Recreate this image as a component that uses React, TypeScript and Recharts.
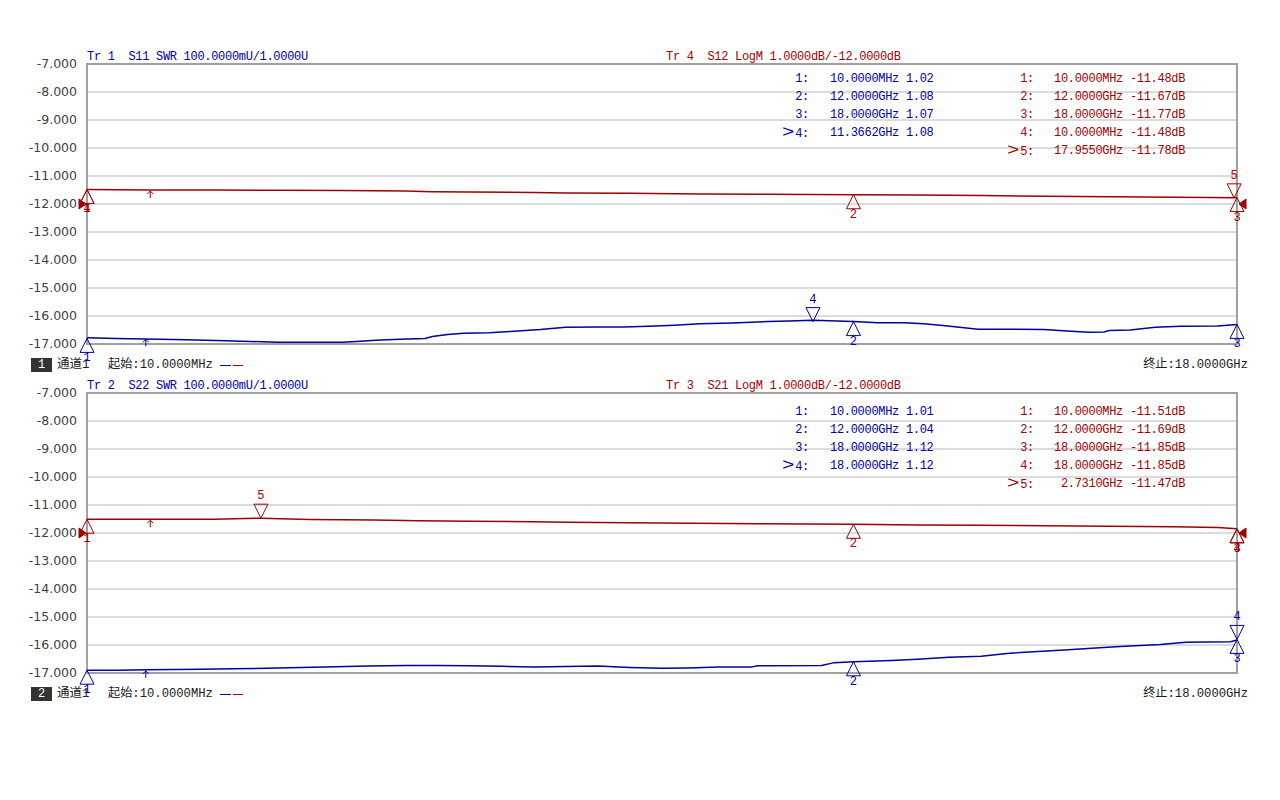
import React from 'react'
import {
  LineChart, Line, XAxis, YAxis, CartesianGrid, ReferenceDot, ReferenceArea,
} from 'recharts'

const BLUE = '#0000a0'
const RED = '#a00000'
const GRID = '#b8b8b8'
const FRAME = '#a0a0a0'
const MONO = '"Liberation Mono", "Noto Sans CJK SC", monospace'

// vertical divisions, 10 MHz .. 18 GHz (GHz)
const FREQ_GRID = [0.01, 1.809, 3.608, 5.407, 7.206, 9.005, 10.804, 12.603, 14.402, 16.201, 18]
const DB_TICKS = [-17, -16, -15, -14, -13, -12, -11, -10, -9, -8, -7]

// Tr 1  S11 SWR (channel 1)
const S11_FREQ = [0.01, 0.45, 1.15, 1.56, 2.17, 2.56, 3.0, 3.5, 4.0, 4.23, 4.53, 4.9, 5.3, 5.41, 5.65, 5.9, 6.3, 6.63, 7.1, 7.5, 8.0, 8.4, 8.8, 9.2, 9.6, 10.1, 10.66, 11.0, 11.3662, 12.0, 12.38, 12.8, 13.1, 13.4, 13.95, 14.98, 15.34, 15.68, 15.92, 16.0, 16.33, 16.72, 17.12, 17.7, 18.0]
const S11_SWR = [1.022, 1.02, 1.017, 1.015, 1.012, 1.009, 1.006, 1.006, 1.006, 1.009, 1.013, 1.017, 1.02, 1.027, 1.034, 1.038, 1.04, 1.045, 1.052, 1.06, 1.061, 1.061, 1.063, 1.067, 1.072, 1.075, 1.08, 1.082, 1.085, 1.08, 1.076, 1.076, 1.072, 1.066, 1.053, 1.052, 1.046, 1.042, 1.043, 1.048, 1.05, 1.06, 1.063, 1.064, 1.07]

// Tr 4  S12 LogM (channel 1)
const S12_FREQ = [0.01, 1.0, 2.0, 3.0, 4.0, 5.0, 5.4, 6.0, 7.0, 7.5, 8.5, 9.6, 10.5, 11.3, 12.0, 13.0, 14.0, 15.0, 16.0, 17.0, 17.6, 17.955, 18.0]
const S12_DB = [-11.48, -11.5, -11.5, -11.51, -11.52, -11.54, -11.56, -11.57, -11.59, -11.61, -11.62, -11.64, -11.65, -11.66, -11.67, -11.68, -11.7, -11.72, -11.74, -11.76, -11.77, -11.78, -11.77]

// Tr 2  S22 SWR (channel 2)
const S22_FREQ = [0.01, 0.5, 0.95, 1.8, 2.3, 3.0, 3.9, 4.4, 5.0, 5.5, 6.0, 6.5, 7.0, 7.5, 8.0, 8.5, 9.0, 9.4, 9.9, 10.4, 10.5, 11.5, 11.7, 12.0, 12.6, 13.0, 13.5, 14.0, 14.4, 15.3, 16.1, 16.8, 17.2, 17.9, 18.0]
const S22_SWR = [1.01, 1.01, 1.012, 1.013, 1.015, 1.018, 1.022, 1.025, 1.027, 1.027, 1.026, 1.024, 1.021, 1.023, 1.025, 1.02, 1.017, 1.018, 1.021, 1.021, 1.026, 1.027, 1.037, 1.04, 1.045, 1.049, 1.056, 1.06, 1.07, 1.082, 1.094, 1.102, 1.11, 1.112, 1.118]

// Tr 3  S21 LogM (channel 2)
const S21_FREQ = [0.01, 1.0, 2.0, 2.731, 3.5, 4.5, 5.2, 6.0, 7.0, 7.5, 8.5, 9.5, 10.5, 12.0, 13.0, 14.0, 15.0, 16.0, 17.0, 17.7, 18.0]
const S21_DB = [-11.51, -11.51, -11.51, -11.47, -11.52, -11.54, -11.56, -11.58, -11.6, -11.62, -11.63, -11.65, -11.67, -11.69, -11.71, -11.72, -11.74, -11.76, -11.78, -11.8, -11.85]

type Marker = { id: string; freq: number; value: number; active?: boolean }

const S11_MARKERS: Marker[] = [
  { id: '1', freq: 0.01, value: 1.02 },
  { id: '2', freq: 12, value: 1.08 },
  { id: '3', freq: 18, value: 1.07 },
  { id: '4', freq: 11.3662, value: 1.08, active: true },
]
const S12_MARKERS: Marker[] = [
  { id: '1', freq: 0.01, value: -11.48 },
  { id: '2', freq: 12, value: -11.67 },
  { id: '3', freq: 18, value: -11.77 },
  { id: '4', freq: 0.01, value: -11.48 },
  { id: '5', freq: 17.955, value: -11.78, active: true },
]
const S22_MARKERS: Marker[] = [
  { id: '1', freq: 0.01, value: 1.01 },
  { id: '2', freq: 12, value: 1.04 },
  { id: '3', freq: 18, value: 1.12 },
  { id: '4', freq: 18, value: 1.12, active: true },
]
const S21_MARKERS: Marker[] = [
  { id: '1', freq: 0.01, value: -11.51 },
  { id: '2', freq: 12, value: -11.69 },
  { id: '3', freq: 18, value: -11.85 },
  { id: '4', freq: 18, value: -11.85 },
  { id: '5', freq: 2.731, value: -11.47, active: true },
]

const fmtFreq = (f: number) => (f < 1 ? `${(f * 1000).toFixed(4)}MHz` : `${f.toFixed(4)}GHz`).padStart(10, ' ')
const fmtSwr = (v: number) => v.toFixed(2)
const fmtDb = (v: number) => `${v.toFixed(2)}dB`

const toData = (fs: number[], vs: number[]) => fs.map((f, i) => ({ f, v: vs[i] }))

function markerShape(color: string, id: string, active?: boolean) {
  return (p: any) => {
    const { cx, cy } = p
    if (active) {
      return (
        <g>
          <path d={`M${cx},${cy}L${cx - 7},${cy - 14}L${cx + 7},${cy - 14}Z`} fill="none" stroke={color} strokeWidth={1} />
          <text x={cx} y={cy - 22} textAnchor="middle" dominantBaseline="central" fontSize={12} fontFamily={MONO} fill={color}>{id}</text>
        </g>
      )
    }
    return (
      <g>
        <path d={`M${cx},${cy}L${cx - 7},${cy + 14}L${cx + 7},${cy + 14}Z`} fill="none" stroke={color} strokeWidth={1} />
        <text x={cx} y={cy + 20} textAnchor="middle" dominantBaseline="central" fontSize={12} fontFamily={MONO} fill={color}>{id}</text>
      </g>
    )
  }
}

const arrowShape = (color: string) => (p: any) => {
  const { cx, cy } = p
  return <path d={`M${cx},${cy + 8}L${cx},${cy + 1}M${cx - 3},${cy + 4}L${cx},${cy + 1}L${cx + 3},${cy + 4}`} fill="none" stroke={color} strokeWidth={1} />
}

const refLeft = (p: any) => {
  const { cx, cy } = p
  return <path d={`M${cx - 8},${cy - 5}L${cx - 1},${cy}L${cx - 8},${cy + 5}Z`} fill={RED} stroke={RED} />
}
const refRight = (p: any) => {
  const { cx, cy } = p
  return <path d={`M${cx + 9},${cy - 5}L${cx + 2},${cy}L${cx + 9},${cy + 5}Z`} fill={RED} stroke={RED} />
}

function Txt({ x, y, color = '#202020', children, align = 'left', size = 12 }: any) {
  const style: React.CSSProperties = {
    position: 'absolute', top: y - 8, lineHeight: '16px', height: 16, whiteSpace: 'pre',
    fontFamily: MONO, fontSize: size, color, letterSpacing: size === 12 ? -0.3 : 0,
  }
  if (align === 'right') style.right = 1280 - x
  else style.left = x
  return <div style={style}>{children}</div>
}

function MarkerTable({ markers, top, labelRight, textLeft, color, format }: any) {
  return (
    <>
      {markers.map((m: Marker, i: number) => (
        <React.Fragment key={i}>
          <Txt x={labelRight} y={top + i * 18} color={color} align="right">
            {m.active && <span style={{ fontSize: 16, letterSpacing: 0, display: 'inline-block', width: 13, transform: 'scaleX(1.3)', transformOrigin: 'left center' }}>&gt;</span>}
            {`${m.id}:`}
          </Txt>
          <Txt x={textLeft} y={top + i * 18} color={color}>{`${fmtFreq(m.freq)} ${format(m.value)}`}</Txt>
        </React.Fragment>
      ))}
    </>
  )
}

function Panel({ top, swrData, dbData, swrMarkers, dbMarkers, swrArrow, dbArrow }: any) {
  return (
    <div style={{ position: 'absolute', left: 0, top, width: 1280, height: 400 }}>
      <LineChart width={1280} height={400} margin={{ top: 64, right: 43, bottom: 56, left: 0 }}>
        <CartesianGrid stroke={GRID} strokeWidth={1} />
        <XAxis dataKey="f" type="number" domain={[0.01, 18]} ticks={FREQ_GRID} height={0}
          tick={false} axisLine={false} tickLine={false} allowDataOverflow />
        <YAxis type="number" domain={[-17, -7]} ticks={DB_TICKS} interval={0} width={87}
          axisLine={false} tickLine={false} tickMargin={4}
          tick={{ fontSize: 12.5, fill: '#404040', fontFamily: '"DejaVu Sans", sans-serif' }}
          tickFormatter={(v: number) => v.toFixed(3)} />
        <YAxis yAxisId="swr" type="number" domain={[1, 2]} hide />
        <ReferenceArea x1={0.01} x2={18} y1={-17} y2={-7} fill="none" stroke={FRAME} strokeWidth={2} />
        <Line data={dbData} dataKey="v" type="linear" stroke={RED} strokeWidth={1.5} dot={false} activeDot={false} isAnimationActive={false} />
        <Line data={swrData} dataKey="v" yAxisId="swr" type="linear" stroke={BLUE} strokeWidth={1.5} dot={false} activeDot={false} isAnimationActive={false} />
        <ReferenceDot x={0.01} y={-12} shape={refLeft} />
        <ReferenceDot x={18} y={-12} shape={refRight} />
        <ReferenceDot x={dbArrow[0]} y={dbArrow[1]} shape={arrowShape(RED)} />
        <ReferenceDot x={swrArrow[0]} y={swrArrow[1]} yAxisId="swr" shape={arrowShape(BLUE)} />
        {dbMarkers.map((m: Marker, i: number) => (
          <ReferenceDot key={`d${i}`} x={m.freq} y={m.value} shape={markerShape(RED, m.id, m.active)} />
        ))}
        {swrMarkers.map((m: Marker, i: number) => (
          <ReferenceDot key={`s${i}`} x={m.freq} y={m.value} yAxisId="swr" shape={markerShape(BLUE, m.id, m.active)} />
        ))}
      </LineChart>
    </div>
  )
}

function Footer({ y, ch }: { y: number; ch: string }) {
  return (
    <>
      <div style={{
        position: 'absolute', left: 31, top: y - 7, width: 21, height: 14, background: '#333',
        color: '#fff', fontFamily: MONO, fontSize: 12, lineHeight: '14px', textAlign: 'center',
      }}>{ch}</div>
      <Txt x={57} y={y} size={12.5}>通道1</Txt>
      <Txt x={108} y={y} size={12.2}>起始:10.0000MHz</Txt>
      <div style={{ position: 'absolute', left: 220, top: y, width: 11, borderTop: `1.5px solid ${BLUE}` }} />
      <div style={{ position: 'absolute', left: 233, top: y, width: 10, borderTop: `1.5px solid ${RED}` }} />
      <Txt x={1248} y={y} size={12.2} align="right">终止:18.0000GHz</Txt>
    </>
  )
}

export default function App() {
  return (
    <div style={{ position: 'absolute', left: 0, top: 0, width: 1280, height: 800, background: '#fff', overflow: 'hidden' }}>
      <Panel top={0}
        swrData={toData(S11_FREQ, S11_SWR)} dbData={toData(S12_FREQ, S12_DB)}
        swrMarkers={S11_MARKERS} dbMarkers={S12_MARKERS}
        swrArrow={[0.93, 1.02]} dbArrow={[1.0, -11.5]} />
      <Panel top={329}
        swrData={toData(S22_FREQ, S22_SWR)} dbData={toData(S21_FREQ, S21_DB)}
        swrMarkers={S22_MARKERS} dbMarkers={S21_MARKERS}
        swrArrow={[0.93, 1.011]} dbArrow={[1.0, -11.51]} />

      <Txt x={87} y={57} color={BLUE}>Tr 1  S11 SWR 100.0000mU/1.0000U</Txt>
      <Txt x={666} y={57} color={RED}>Tr 4  S12 LogM 1.0000dB/-12.0000dB</Txt>
      <MarkerTable markers={S11_MARKERS} top={79} labelRight={809} textLeft={830} color={BLUE} format={fmtSwr} />
      <MarkerTable markers={S12_MARKERS} top={79} labelRight={1034} textLeft={1054} color={RED} format={fmtDb} />
      <Footer y={365} ch="1" />

      <Txt x={87} y={386} color={BLUE}>Tr 2  S22 SWR 100.0000mU/1.0000U</Txt>
      <Txt x={666} y={386} color={RED}>Tr 3  S21 LogM 1.0000dB/-12.0000dB</Txt>
      <MarkerTable markers={S22_MARKERS} top={412} labelRight={809} textLeft={830} color={BLUE} format={fmtSwr} />
      <MarkerTable markers={S21_MARKERS} top={412} labelRight={1034} textLeft={1054} color={RED} format={fmtDb} />
      <Footer y={694} ch="2" />
    </div>
  )
}
